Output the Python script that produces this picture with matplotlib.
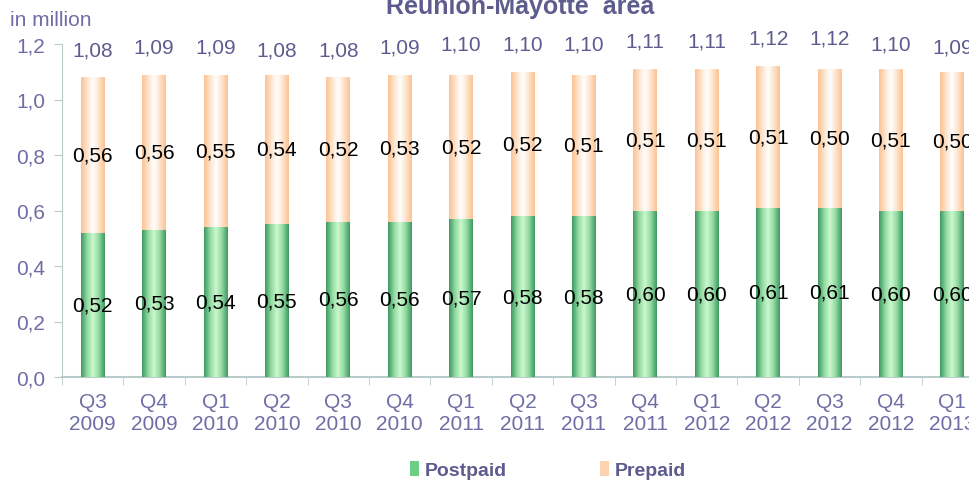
import numpy as np
import matplotlib
matplotlib.use("Agg")
import matplotlib.pyplot as plt
from matplotlib.colors import LinearSegmentedColormap
from matplotlib.patches import Patch

plt.rcParams['font.family'] = ['Liberation Sans', 'DejaVu Sans']

quarters = ["Q3\n2009", "Q4\n2009", "Q1\n2010", "Q2\n2010", "Q3\n2010", "Q4\n2010",
            "Q1\n2011", "Q2\n2011", "Q3\n2011", "Q4\n2011", "Q1\n2012", "Q2\n2012",
            "Q3\n2012", "Q4\n2012", "Q1\n2013"]
postpaid = [0.52, 0.53, 0.54, 0.55, 0.56, 0.56, 0.57, 0.58, 0.58, 0.60, 0.60, 0.61, 0.61, 0.60, 0.60]
prepaid = [0.56, 0.56, 0.55, 0.54, 0.52, 0.53, 0.52, 0.52, 0.51, 0.51, 0.51, 0.51, 0.50, 0.51, 0.50]
totals = [1.08, 1.09, 1.09, 1.08, 1.08, 1.09, 1.10, 1.10, 1.10, 1.11, 1.11, 1.12, 1.12, 1.10, 1.09]

txt = "#5c5c8e"
tick_txt = "#6e6ea6"
green_cm = LinearSegmentedColormap.from_list("g", ["#3f9a62", "#8fd9a0", "#cdf7cd", "#8fd9a0", "#3f9a62"])
orange_cm = LinearSegmentedColormap.from_list("o", ["#fcc394", "#fde3cc", "#ffffff", "#fde3cc", "#fcc394"])

fig = plt.figure(figsize=(9.7, 4.85), dpi=100)
ax = fig.add_axes([62 / 970, (485 - 378) / 485, 921 / 970, 333 / 485])

x = np.arange(len(quarters))
w = 0.39
b1 = ax.bar(x, postpaid, width=w, color="#8fd9a0", zorder=2)
b2 = ax.bar(x, prepaid, width=w, bottom=postpaid, color="#fde3cc", zorder=2)

# horizontal gradient inside each bar
grad = np.linspace(0, 1, 64).reshape(1, -1)
for bars, cm in ((b1, green_cm), (b2, orange_cm)):
    for p in bars:
        x0, y0 = p.get_x(), p.get_y()
        im = ax.imshow(grad, cmap=cm, aspect="auto", zorder=3,
                       extent=(x0, x0 + p.get_width(), y0, y0 + p.get_height()))
        im.set_clip_path(p)

def fmt(v):
    return f"{v:.2f}".replace(".", ",")

for i in range(len(quarters)):
    ax.text(x[i], postpaid[i] / 2, fmt(postpaid[i]), ha="center", va="center",
            fontsize=15, color="black", zorder=5)
    ax.text(x[i], postpaid[i] + prepaid[i] / 2, fmt(prepaid[i]), ha="center", va="center",
            fontsize=15, color="black", zorder=5)
    ax.text(x[i], totals[i] + 0.1, fmt(totals[i]), ha="center", va="center",
            fontsize=15, color=txt, zorder=5)

ax.set_xlim(-0.5, len(quarters) - 0.5)
ax.set_ylim(0, 1.2)
ax.set_yticks(np.arange(0, 1.21, 0.2))
ax.set_yticklabels([fmt(v)[:-1] for v in np.arange(0, 1.21, 0.2)])
ax.set_xticks(x)
ax.set_xticklabels(quarters, fontsize=15, color=tick_txt, linespacing=1.2)
ax.set_xticks(np.arange(-0.5, len(quarters), 1), minor=True)
ax.tick_params(axis="x", which="major", length=0, pad=11)
ax.tick_params(axis="x", which="minor", length=6, color="#b8caca", direction="out")
ax.tick_params(axis="y", labelsize=15, labelcolor=tick_txt, length=6, color="#b8caca", pad=6)

for s in ("top", "right"):
    ax.spines[s].set_visible(False)
ax.spines["left"].set_color("#b8caca")
ax.spines["bottom"].set_color("#b8caca")
ax.spines["bottom"].set_linewidth(1.5)

fig.text(10 / 970, 1 - 21 / 485, "in million", fontsize=15, color=tick_txt, va="center")
fig.text(520 / 970, 1 - 14 / 485, "Reunion-Mayotte  area", fontsize=18, fontweight="bold",
         color=txt, ha="center", va="baseline")

handles = [Patch(facecolor="#6ccf85"), Patch(facecolor="#fcd3ae")]
fig.legend(handles, ["Postpaid", "Prepaid"], loc="center", bbox_to_anchor=(548 / 970, 1 - 471 / 485),
           ncol=2, frameon=False, handlelength=0.45, handleheight=0.8, handletextpad=0.3,
           columnspacing=4.8, prop={"weight": "bold", "size": 14}, labelcolor=txt)

fig.savefig("out.png", dpi=100)
